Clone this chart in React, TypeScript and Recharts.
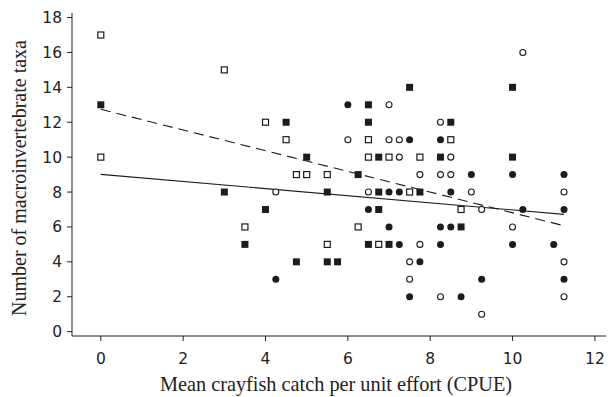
import React from 'react';
import { ScatterChart, Scatter, XAxis, YAxis, Label } from 'recharts';

type P = { x: number; y: number };

const filledSquares: P[] = [
  { x: 0, y: 13 }, { x: 3, y: 8 }, { x: 7.5, y: 14 }, { x: 6.5, y: 13 }, { x: 4.5, y: 12 },
  { x: 6.5, y: 12 }, { x: 5, y: 10 }, { x: 6.75, y: 10 }, { x: 6.25, y: 9 }, { x: 5.5, y: 8 },
  { x: 6.75, y: 8 }, { x: 7.75, y: 8 }, { x: 4, y: 7 }, { x: 6.75, y: 7 }, { x: 3.5, y: 5 },
  { x: 6.5, y: 5 }, { x: 7, y: 5 }, { x: 4.75, y: 4 }, { x: 5.5, y: 4 }, { x: 5.75, y: 4 },
  { x: 10, y: 14 }, { x: 8.5, y: 12 }, { x: 8.25, y: 10 }, { x: 10, y: 10 }, { x: 8.75, y: 6 },
];

const openSquares: P[] = [
  { x: 0, y: 17 }, { x: 0, y: 10 }, { x: 3, y: 15 }, { x: 4, y: 12 }, { x: 4.5, y: 11 },
  { x: 6.5, y: 11 }, { x: 6.5, y: 10 }, { x: 7, y: 10 }, { x: 4.75, y: 9 }, { x: 5, y: 9 },
  { x: 5.5, y: 9 }, { x: 7.5, y: 8 }, { x: 3.5, y: 6 }, { x: 6.25, y: 6 }, { x: 5.5, y: 5 },
  { x: 6.75, y: 5 }, { x: 8.5, y: 11 }, { x: 7.75, y: 10 }, { x: 8.75, y: 7 },
];

const filledCircles: P[] = [
  { x: 6, y: 13 }, { x: 7.5, y: 11 }, { x: 8.25, y: 11 }, { x: 7, y: 8 }, { x: 7.25, y: 8 },
  { x: 8.5, y: 8 }, { x: 6.5, y: 7 }, { x: 7, y: 6 }, { x: 7.25, y: 5 }, { x: 4.25, y: 3 },
  { x: 7.5, y: 2 }, { x: 9, y: 9 }, { x: 10, y: 9 }, { x: 11.25, y: 9 }, { x: 10.25, y: 7 },
  { x: 11.25, y: 7 }, { x: 8.25, y: 6 }, { x: 8.5, y: 6 }, { x: 8.25, y: 5 }, { x: 10, y: 5 },
  { x: 11, y: 5 }, { x: 7.75, y: 4 }, { x: 9.25, y: 3 }, { x: 11.25, y: 3 }, { x: 8.75, y: 2 },
];

const openCircles: P[] = [
  { x: 7, y: 13 }, { x: 6, y: 11 }, { x: 7, y: 11 }, { x: 7.25, y: 11 }, { x: 7.25, y: 10 },
  { x: 8.5, y: 10 }, { x: 7.75, y: 9 }, { x: 8.25, y: 9 }, { x: 8.5, y: 9 }, { x: 4.25, y: 8 },
  { x: 6.5, y: 8 }, { x: 9, y: 8 }, { x: 11.25, y: 8 }, { x: 9.25, y: 7 }, { x: 10, y: 6 },
  { x: 8.25, y: 12 }, { x: 7.75, y: 5 }, { x: 7.5, y: 4 }, { x: 7.5, y: 3 }, { x: 11.25, y: 4 },
  { x: 8.25, y: 2 }, { x: 11.25, y: 2 }, { x: 9.25, y: 1 }, { x: 10.25, y: 16 },
];

const dashedFit: P[] = [{ x: 0, y: 12.74 }, { x: 11.25, y: 6.07 }];
const solidFit: P[] = [{ x: 0, y: 9.01 }, { x: 11.25, y: 6.72 }];

const xTicks = [0, 2, 4, 6, 8, 10, 12];
const yTicks = [0, 2, 4, 6, 8, 10, 12, 14, 16, 18];

const INK = '#1c1c1c';
const S = 7;

const FilledSquare = (p: any) => (
  <rect x={p.cx - S / 2} y={p.cy - S / 2} width={S} height={S} fill={INK} />
);
const OpenSquare = (p: any) => (
  <rect x={p.cx - S / 2 + 0.5} y={p.cy - S / 2 + 0.5} width={S - 1} height={S - 1} fill="#fff" stroke={INK} strokeWidth={1.2} />
);
const FilledCircle = (p: any) => <circle cx={p.cx} cy={p.cy} r={S / 2} fill={INK} />;
const OpenCircle = (p: any) => (
  <circle cx={p.cx} cy={p.cy} r={S / 2 - 0.5} fill="#fff" stroke={INK} strokeWidth={1.1} />
);
const NoShape = () => <g />;

const tickStyle = { fill: '#222', fontSize: 15.5, fontFamily: '"DejaVu Sans", Verdana, sans-serif' };
const titleFont = '"Liberation Serif", "Times New Roman", serif';

const YTitle = () => (
  <text
    x={26}
    y={178}
    transform="rotate(-90 26 178)"
    textAnchor="middle"
    fontFamily={titleFont}
    fontSize={20}
    fill="#222"
  >
    Number of macroinvertebrate taxa
  </text>
);

export default function App() {
  return (
    <div style={{ position: 'absolute', left: 0, top: 0, background: '#fff' }}>
      <ScatterChart width={608} height={397} margin={{ top: 13, right: 2, bottom: 0, left: 0 }}>
        <XAxis
          type="number"
          dataKey="x"
          domain={[-0.7, 12.27]}
          ticks={xTicks}
          allowDataOverflow
          height={61}
          tickSize={5}
          tickMargin={12}
          stroke="#222"
          tick={tickStyle}
        >
          <Label
            value="Mean crayfish catch per unit effort (CPUE)"
            position="insideBottom"
            offset={6}
            dx={-3}
            style={{ fontFamily: titleFont, fontSize: 20.3, fill: '#222' }}
          />
        </XAxis>
        <YAxis
          type="number"
          dataKey="y"
          domain={[-0.25, 18.26]}
          ticks={yTicks}
          allowDataOverflow
          width={72}
          tickSize={5}
          tickMargin={5}
          stroke="#222"
          tick={tickStyle}
        >
          <Label content={YTitle} />
        </YAxis>
        <Scatter data={dashedFit} isAnimationActive={false} shape={NoShape} line={{ stroke: INK, strokeWidth: 1.1, strokeDasharray: '10 6' }} />
        <Scatter data={solidFit} isAnimationActive={false} shape={NoShape} line={{ stroke: INK, strokeWidth: 1.1 }} />
        <Scatter data={filledSquares} isAnimationActive={false} shape={FilledSquare} />
        <Scatter data={openSquares} isAnimationActive={false} shape={OpenSquare} />
        <Scatter data={filledCircles} isAnimationActive={false} shape={FilledCircle} />
        <Scatter data={openCircles} isAnimationActive={false} shape={OpenCircle} />
      </ScatterChart>
    </div>
  );
}
